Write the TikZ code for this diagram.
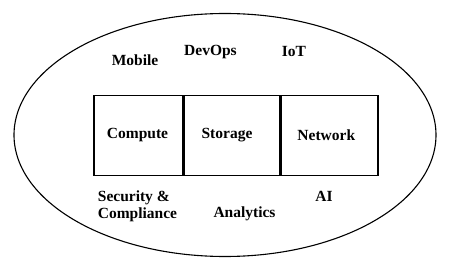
\documentclass[tikz,border=0pt]{standalone}
\usepackage{fontspec}
\setmainfont{Liberation Serif}

\tikzset{
	svcbox/.style={draw, line width=1.5pt, minimum height=80pt, inner sep=0pt},
	area/.style={font=\fontsize{15.5}{17}\selectfont\bfseries, inner sep=0pt}
}

\begin{document}
\begin{tikzpicture}[x=1pt, y=1pt]
		\useasboundingbox (0,0) rectangle (450,268);
		\draw[line width=1.1pt] (225,133) ellipse (211 and 121.5);  % outer cloud
		% core services
		\node[svcbox, minimum width=88.5pt, label={[area, xshift=-0.5pt]center:Compute}] (compute) at (138,132.7) {};
		\node[svcbox, minimum width=96pt, label={[area, xshift=-5pt]center:Storage}] (storage) at (232,132.7) {};
		\node[svcbox, minimum width=96.5pt, label={[area, xshift=-3.5pt]center:Network}] (network) at (329.8,132.7) {};
		% surrounding areas
		\node[area] (mobile) at (135,208) {Mobile};
		\node[area] (devops) at (210.5,216) {DevOps};
		\node[area] (iot)    at (294,216) {IoT};
		\node[area, align=left] (security) at (137.5,62) {Security \&\\Compliance};
		\node[area] (analytics) at (244.5,54) {Analytics};
		\node[area] (ai)     at (324,72) {AI};
	\end{tikzpicture}
\end{document}
